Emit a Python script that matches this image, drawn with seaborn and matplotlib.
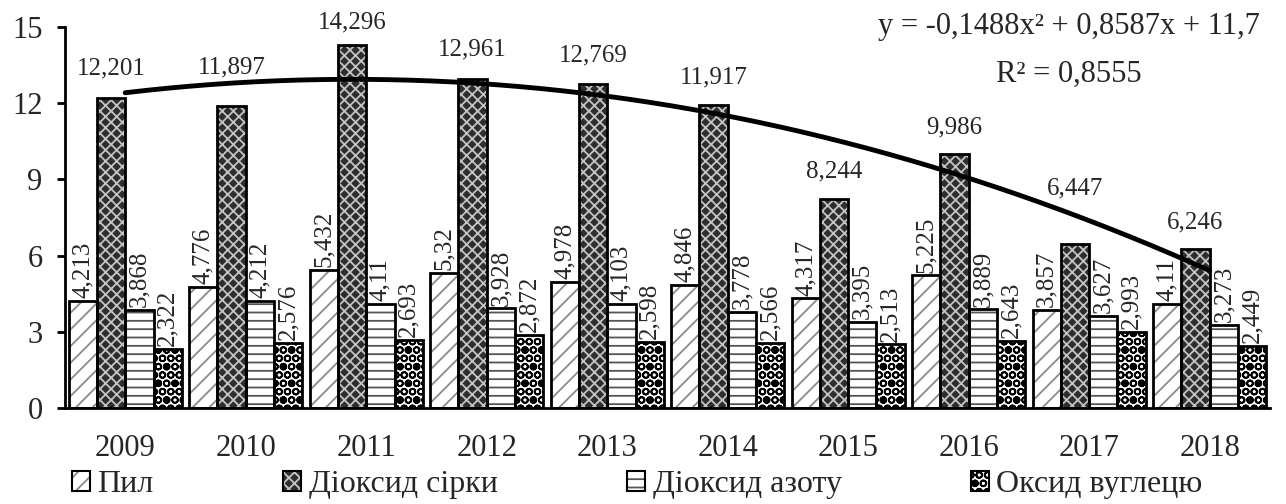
import numpy as np
import pandas as pd
import seaborn as sns
import matplotlib.pyplot as plt
from matplotlib.patches import Patch, Rectangle

years = ['2009', '2010', '2011', '2012', '2013', '2014', '2015', '2016', '2017', '2018']
series = ['Пил', 'Діоксид сірки', 'Діоксид азоту', 'Оксид вуглецю']
dust = [4.213, 4.776, 5.432, 5.32, 4.978, 4.846, 4.317, 5.225, 3.857, 4.11]
sulfur = [12.201, 11.897, 14.296, 12.961, 12.769, 11.917, 8.244, 9.986, 6.447, 6.246]
nitrogen = [3.868, 4.212, 4.11, 3.928, 4.103, 3.778, 3.395, 3.889, 3.627, 3.273]
carbon = [2.322, 2.576, 2.693, 2.872, 2.598, 2.566, 2.513, 2.643, 2.993, 2.449]

# trend for sulfur dioxide (Excel polynomial, x = 1..10)
trend_coef = [-0.1488, 0.8587, 11.7]
trend_r2 = 0.8555

df = pd.DataFrame({
    'year': years * 4,
    'series': np.repeat(series, len(years)),
    'value': dust + sulfur + nitrogen + carbon,
})

# styles: face, hatch, hatch colour
styles = {
    'Пил': ('white', '//', '#8a8a8a'),
    'Діоксид сірки': ('#2e2e2e', 'xxx', '#c4c4c4'),
    'Діоксид азоту': ('white', '--', '#555555'),
    'Оксид вуглецю': ('white', 'OO.', 'black'),
}
# extra lift of the sulfur labels above the bar tops
sulfur_lift = [1.15, 1.5, 0.9, 1.15, 1.1, 1.1, 1.05, 1.05, 2.2, 1.05]

sns.set_style('white')
plt.rcParams['font.family'] = ['Liberation Serif', 'DejaVu Serif']
plt.rcParams['hatch.linewidth'] = 1.3

fig = plt.figure(figsize=(12.86, 5.04), dpi=100)
ax = fig.add_axes([0.0505, 0.1905, 0.937, 0.756])

sns.barplot(data=df, x='year', y='value', hue='series', hue_order=series,
            palette=[styles[s][0] for s in series], width=0.94,
            legend=False, ax=ax)

for cont, name in zip(ax.containers, series):
    face, hatch, hcol = styles[name]
    for bar in cont:
        bar.set_hatch(hatch)
        bar.set_edgecolor(hcol)
        bar.set_linewidth(0)
        ax.add_patch(Rectangle(bar.get_xy(), bar.get_width(), bar.get_height(),
                               fill=False, edgecolor='black', linewidth=2, zorder=3))

# value labels
for k, (cont, name) in enumerate(zip(ax.containers, series)):
    for i, bar in enumerate(cont):
        v = bar.get_height()
        xc = bar.get_x() + bar.get_width() / 2
        txt = str(v).replace('.', ',')
        if name == 'Діоксид сірки':
            ax.text(xc, v + sulfur_lift[i], txt, ha='center', va='center',
                    fontsize=18, zorder=6)
        else:
            ax.text(xc, v + 0.1, txt, ha='center', va='bottom', rotation=90,
                    fontsize=18, zorder=6)

# trend line through category centres
xs = np.linspace(1, len(years), 200)
ax.plot(xs - 1, np.polyval(trend_coef, xs), color='black', lw=3.5, zorder=5)

ax.text(0.833, 1.0, 'y = -0,1488x² + 0,8587x + 11,7', transform=ax.transAxes,
        ha='center', va='center', fontsize=22)
ax.text(0.833, 0.877, 'R² = ' + str(trend_r2).replace('.', ','),
        transform=ax.transAxes, ha='center', va='center', fontsize=22)

ax.set_xlim(-0.5, len(years) - 0.5)
ax.set_ylim(0, 15)
ax.set_yticks(range(0, 16, 3))
ax.set_xlabel('')
ax.set_ylabel('')
ax.set_xticks(np.arange(-0.5, len(years)), minor=True)
ax.tick_params(axis='x', which='major', length=0, pad=19, labelsize=22)
ax.tick_params(axis='x', which='minor', length=6, width=2, direction='out', color='black')
ax.tick_params(axis='y', length=6, width=2, direction='out', pad=10, labelsize=22,
               color='black', left=True)
for side in ['top', 'right']:
    ax.spines[side].set_visible(False)
for side in ['left', 'bottom']:
    ax.spines[side].set_color('black')
    ax.spines[side].set_linewidth(2)

handles = [Patch(facecolor=styles[s][0], hatch=styles[s][1], edgecolor=styles[s][2],
                 linewidth=0) for s in series]
handles = [(h, Patch(fill=False, edgecolor='black', linewidth=1.5)) for h in handles]
fig.legend(handles, series, loc='center left', bbox_to_anchor=(0.056, 0.038),
           ncol=4, frameon=False, fontsize=23, handlelength=0.55, handleheight=0.55,
           handletextpad=0.25, columnspacing=4.05, borderpad=0, borderaxespad=0)

fig.savefig('out.png', dpi=100)
